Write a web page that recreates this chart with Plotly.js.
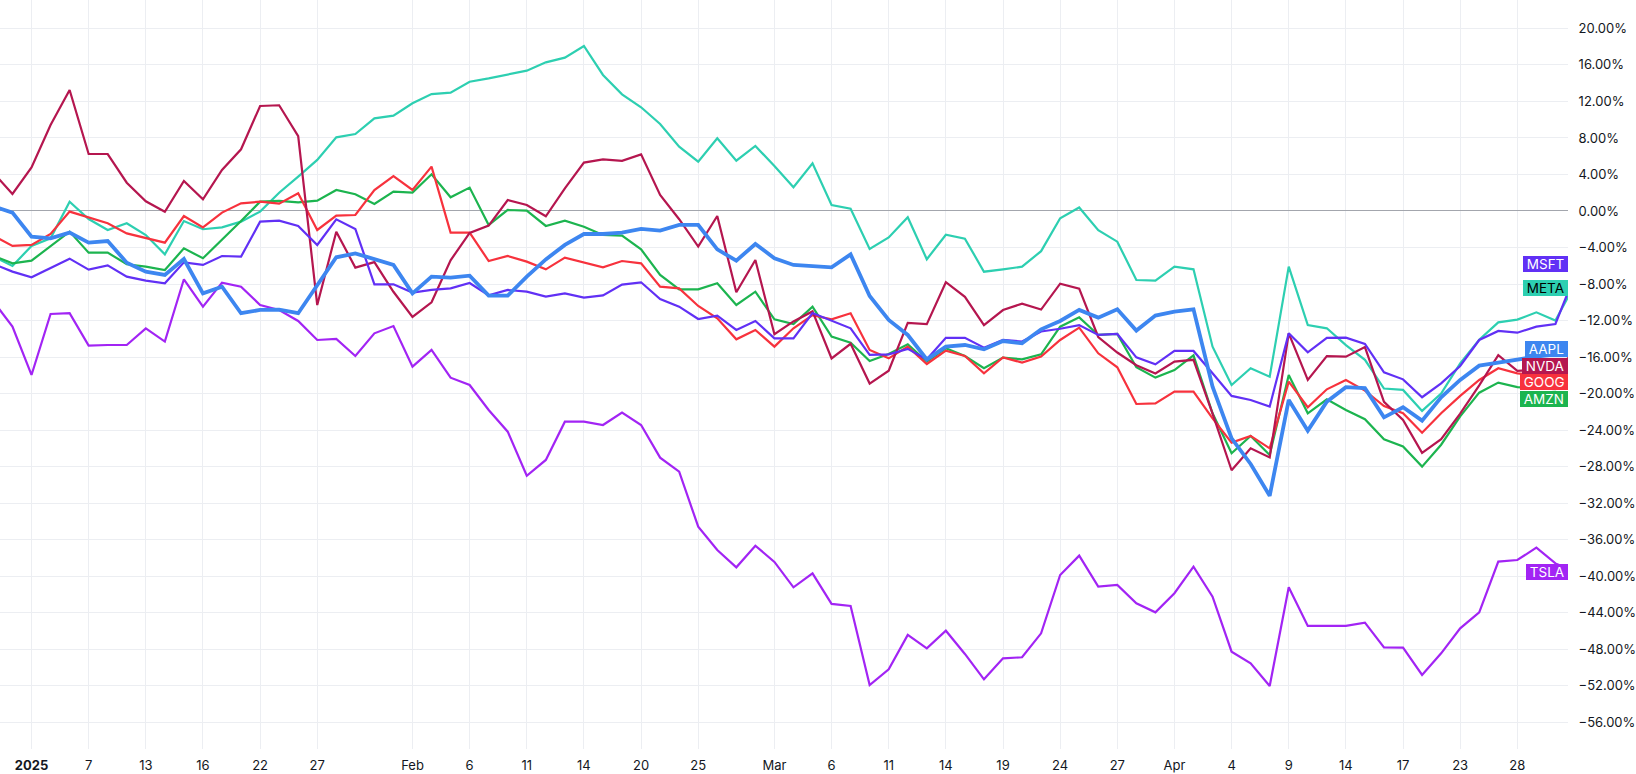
<!DOCTYPE html>
<html>
<head>
<meta charset="utf-8">
<script src="https://cdn.plot.ly/plotly-3.0.1.min.js"></script>
<style>
  html, body { margin: 0; padding: 0; background: #ffffff; }
  #chart { width: 1636px; height: 774px; }
</style>
</head>
<body>
<div id="chart"></div>
<script>
// ---- Data (percent change) ----
const days = ['2024-12-30','2024-12-31','2025-01-02','2025-01-03','2025-01-06','2025-01-07','2025-01-08','2025-01-10','2025-01-13','2025-01-14','2025-01-15','2025-01-16','2025-01-17','2025-01-21','2025-01-22','2025-01-23','2025-01-24','2025-01-27','2025-01-28','2025-01-29','2025-01-30','2025-01-31','2025-02-03','2025-02-04','2025-02-05','2025-02-06','2025-02-07','2025-02-10','2025-02-11','2025-02-12','2025-02-13','2025-02-14','2025-02-18','2025-02-19','2025-02-20','2025-02-21','2025-02-24','2025-02-25','2025-02-26','2025-02-27','2025-02-28','2025-03-03','2025-03-04','2025-03-05','2025-03-06','2025-03-07','2025-03-10','2025-03-11','2025-03-12','2025-03-13','2025-03-14','2025-03-17','2025-03-18','2025-03-19','2025-03-20','2025-03-21','2025-03-24','2025-03-25','2025-03-26','2025-03-27','2025-03-28','2025-03-31','2025-04-01','2025-04-02','2025-04-03','2025-04-04','2025-04-07','2025-04-08','2025-04-09','2025-04-10','2025-04-11','2025-04-14','2025-04-15','2025-04-16','2025-04-17','2025-04-21','2025-04-22','2025-04-23','2025-04-24','2025-04-25','2025-04-28','2025-04-29','2025-04-30','2025-05-01'];

const nvda = [4.2, 1.86, 4.78, 9.42, 13.25, 6.24, 6.24, 3.1, 1.06, -0.08,
  3.29, 1.28, 4.49, 6.76, 11.5, 11.58, 8.2, -10.3, -2.27, -6.2,
  -5.6, -8.85, -11.6, -10.0, -5.4, -2.4, -1.6, 1.2, 0.66, -0.58,
  2.48, 5.3, 5.66, 5.5, 6.2, 1.75, -0.9, -3.9, -0.55, -8.9,
  -5.37, -13.5, -12.1, -11.0, -16.15, -14.55, -18.9, -17.5, -12.25, -12.4,
  -7.8, -9.4, -12.5, -10.85, -10.15, -10.8, -7.96, -8.5, -13.8, -15.5,
  -16.9, -17.8, -16.5, -16.3, -22.2, -28.4, -26.0, -27.0, -13.4, -18.5,
  -15.9, -15.96, -14.9, -20.9, -22.9, -26.5, -25.0, -22.2, -19.1, -15.8,
  -17.5, -17.4, -17.3, -15.5];

const msft = [-5.8, -6.64, -7.27, -6.28, -5.22, -6.42, -5.95, -7.19, -7.63, -7.92,
  -5.62, -5.91, -4.93, -5.0, -1.17, -1.06, -1.64, -3.72, -0.91, -1.97,
  -8.03, -8.03, -8.94, -8.65, -8.47, -7.89, -9.24, -8.65, -8.84, -9.38,
  -9.02, -9.49, -9.24, -8.07, -7.81, -9.64, -10.48, -11.83, -11.46, -13.03,
  -12.05, -13.95, -13.95, -11.17, -12.0, -12.85, -15.77, -15.7, -15.1, -16.25,
  -13.9, -13.9, -14.97, -14.13, -14.3, -13.2, -12.9, -12.5, -13.58, -13.47,
  -16.03, -16.8, -15.33, -15.33, -17.78, -20.26, -20.7, -21.43, -13.4, -15.48,
  -13.9, -13.88, -14.57, -17.67, -18.44, -20.4, -18.88, -16.98, -14.13, -13.14,
  -13.33, -12.67, -12.38, -7.1];

const meta = [-5.0, -6.02, -3.83, -3.0, 1.02, -0.88, -2.08, -1.35, -2.63, -4.75,
  -1.1, -2.0, -1.79, -1.17, -0.07, 2.0, 3.76, 5.59, 8.07, 8.43,
  10.15, 10.44, 11.8, 12.8, 12.96, 14.16, 14.53, 14.93, 15.37, 16.28,
  16.8, 18.07, 14.9, 12.78, 11.36, 9.53, 7.04, 5.4, 7.96, 5.51,
  7.12, 4.93, 2.6, 5.22, 0.66, 0.25, -4.15, -2.9, -0.69, -5.29,
  -2.6, -3.03, -6.65, -6.39, -6.1, -4.4, -0.8, 0.38, -2.1, -3.36,
  -7.56, -7.63, -6.1, -6.39, -14.86, -19.06, -17.23, -18.15, -6.1, -12.49,
  -12.85, -14.7, -16.3, -19.45, -19.6, -21.9, -20.0, -16.7, -14.1, -12.2,
  -11.9, -11.1, -12.0, -8.1];

const aapl = [0.5, -0.18, -2.81, -2.99, -2.37, -3.47, -3.29, -5.66, -6.64, -7.0,
  -5.26, -9.02, -8.29, -11.2, -10.84, -10.8, -11.2, -8.1, -5.07, -4.64,
  -5.29, -5.91, -9.02, -7.19, -7.3, -7.08, -9.27, -9.27, -7.19, -5.3,
  -3.72, -2.52, -2.52, -2.37, -1.97, -2.15, -1.53, -1.53, -4.2, -5.44,
  -3.61, -5.18, -5.91, -6.02, -6.17, -4.75, -9.31, -11.94, -13.58, -16.25,
  -14.86, -14.68, -15.15, -14.24, -14.49, -12.96, -12.05, -10.84, -11.68, -10.77,
  -13.1, -11.46, -11.03, -10.77, -19.24, -24.9, -27.71, -31.2, -20.7, -24.06,
  -20.88, -19.3, -19.4, -22.6, -21.5, -22.96, -20.4, -18.5, -16.94, -16.6,
  -16.25, -15.95, -15.7, -15.2];

const goog = [-2.7, -3.83, -3.72, -2.52, -0.07, -0.69, -1.35, -2.45, -2.92, -3.47,
  -0.55, -1.79, -0.18, 0.84, 1.02, 0.8, 1.94, -2.08, -0.51, -0.44,
  2.3, 3.83, 2.3, 4.86, -2.37, -2.37, -5.48, -4.93, -5.55, -6.39,
  -5.11, -5.66, -6.17, -5.48, -5.73, -8.29, -8.47, -10.4, -11.76, -14.06,
  -13.03, -14.86, -12.85, -11.4, -11.86, -11.2, -15.22, -16.14, -14.86, -16.76,
  -15.3, -15.88, -17.78, -16.03, -16.61, -15.95, -14.13, -12.78, -15.59, -17.12,
  -21.14, -21.07, -19.79, -19.79, -22.71, -25.37, -24.64, -26.0, -18.69, -21.5,
  -19.53, -18.51, -19.68, -21.36, -22.16, -24.28, -22.16, -20.26, -18.51, -17.23,
  -17.78, -17.96, -18.0, -17.6];

const amzn = [-4.9, -5.73, -5.44, -3.83, -2.26, -4.56, -4.56, -5.84, -6.1, -6.46,
  -4.09, -5.18, -3.18, -1.1, 1.02, 1.1, 0.95, 1.13, 2.3, 1.83,
  0.77, 2.12, 2.01, 4.02, 1.5, 2.56, -1.53, 0.11, 0.04, -1.64,
  -1.06, -1.72, -2.63, -2.7, -4.2, -7.01, -8.58, -8.58, -7.92, -10.3,
  -8.84, -11.87, -12.38, -10.48, -13.76, -14.42, -16.43, -15.66, -14.6, -16.5,
  -15.04, -15.88, -17.23, -16.06, -16.25, -15.7, -12.67, -11.65, -13.58, -13.47,
  -17.12, -18.25, -17.42, -15.81, -22.16, -26.54, -24.64, -26.72, -17.96, -22.16,
  -20.63, -21.8, -22.8, -25.0, -25.8, -28.0, -25.6, -22.5, -19.9, -18.8,
  -19.3, -19.4, -19.5, -19.0];

const tsla = [-9.9, -12.67, -17.96, -11.28, -11.2, -14.75, -14.68, -14.68, -12.85, -14.3,
  -7.48, -10.48, -7.85, -8.29, -10.3, -10.84, -12.05, -14.13, -14.02, -15.88,
  -13.4, -12.6, -17.05, -15.22, -18.26, -19.06, -21.8, -24.17, -29.0, -27.27,
  -23.08, -23.08, -23.44, -22.09, -23.44, -27.02, -28.55, -34.58, -37.13, -39.03,
  -36.66, -38.44, -41.22, -39.69, -43.04, -43.26, -51.92, -50.2, -46.44, -47.9,
  -45.97, -48.52, -51.3, -49.0, -48.88, -46.26, -39.87, -37.75, -41.15, -40.96,
  -42.97, -43.96, -41.87, -38.96, -42.24, -48.27, -49.55, -52.03, -41.22, -45.45,
  -45.45, -45.45, -45.09, -47.79, -47.83, -50.82, -48.45, -45.71, -43.96, -38.41,
  -38.23, -36.88, -38.6, -39.5];

const tickDays = ['2025-01-02','2025-01-07','2025-01-13','2025-01-16','2025-01-22','2025-01-27','2025-02-03','2025-02-06','2025-02-11','2025-02-14','2025-02-20','2025-02-25','2025-03-03','2025-03-06','2025-03-11','2025-03-14','2025-03-19','2025-03-24','2025-03-27','2025-04-01','2025-04-04','2025-04-09','2025-04-14','2025-04-17','2025-04-23','2025-04-28'];
const tickText = ['<b>2025</b>','7','13','16','22','27','Feb','6','11','14','20','25','Mar','6','11','14','19','24','27','Apr','4','9','14','17','23','28'];

const yTicks = [20, 16, 12, 8, 4, 0, -4, -8, -12, -16, -20, -24, -28, -32, -36, -40, -44, -48, -52, -56];

// ---- Styling ----
const FONT = 'Inter, Roboto, "Noto Sans", sans-serif';
const series = [
  {name: 'TSLA', y: tsla, color: '#a224f4', width: 2.2},
  {name: 'META', y: meta, color: '#2dcfb1', width: 2.2},
  {name: 'AMZN', y: amzn, color: '#1cb44f', width: 2.2},
  {name: 'GOOG', y: goog, color: '#f7323d', width: 2.2},
  {name: 'NVDA', y: nvda, color: '#b5164f', width: 2.2},
  {name: 'MSFT', y: msft, color: '#6130f5', width: 2.2},
  {name: 'AAPL', y: aapl, color: '#3d86f0', width: 3.8}
];

const traces = series.map(s => ({
  type: 'scatter', mode: 'lines', x: days, y: s.y, name: s.name,
  line: {color: s.color, width: s.width, shape: 'linear'},
  hoverinfo: 'skip', cliponaxis: true
}));

const labelPos = {MSFT: -5.84, META: -8.4, AAPL: -15.08, NVDA: -16.94, GOOG: -18.75, AMZN: -20.61, TSLA: -39.5};
const annotations = series.map(s => ({
  xref: 'paper', x: 1, xanchor: 'right',
  yref: 'y', y: labelPos[s.name], yanchor: 'middle',
  text: '\u00a0' + s.name + '\u00a0',
  showarrow: false,
  bgcolor: s.color,
  borderpad: 0, borderwidth: 0,
  font: {family: FONT, size: 13.5, color: s.name === 'META' ? '#000000' : '#ffffff'}
}));

function fmt(v) {
  const s = Math.abs(v).toFixed(2) + '%';
  return v < 0 ? '\u2212' + s : s;
}

const layout = {
  width: 1636, height: 774,
  margin: {l: 0, r: 68, t: 0, b: 25, pad: 0},
  paper_bgcolor: '#ffffff', plot_bgcolor: '#ffffff',
  showlegend: false,
  font: {family: FONT, size: 13, color: '#131722'},
  xaxis: {
    type: 'category',
    range: [0.346, 82.66],
    tickmode: 'array', tickvals: tickDays, ticktext: tickText,
    showgrid: true, gridcolor: '#eceef2', gridwidth: 1,
    zeroline: false, showline: false,
    ticks: 'outside', ticklen: 4, tickcolor: 'rgba(0,0,0,0)',
    tickfont: {family: FONT, size: 13, color: '#131722'},
    fixedrange: true
  },
  yaxis: {
    side: 'right',
    range: [-58.93, 23.11],
    tickmode: 'array', tickvals: yTicks, ticktext: yTicks.map(fmt),
    showgrid: true, gridcolor: '#eceef2', gridwidth: 1,
    zeroline: true, zerolinecolor: '#a3a6ad', zerolinewidth: 1,
    showline: false,
    ticks: 'outside', ticklen: 7, tickcolor: 'rgba(0,0,0,0)',
    tickfont: {family: FONT, size: 13, color: '#131722'},
    fixedrange: true
  },
  annotations: annotations
};

Plotly.newPlot('chart', traces, layout, {staticPlot: true, displayModeBar: false});
</script>
</body>
</html>
